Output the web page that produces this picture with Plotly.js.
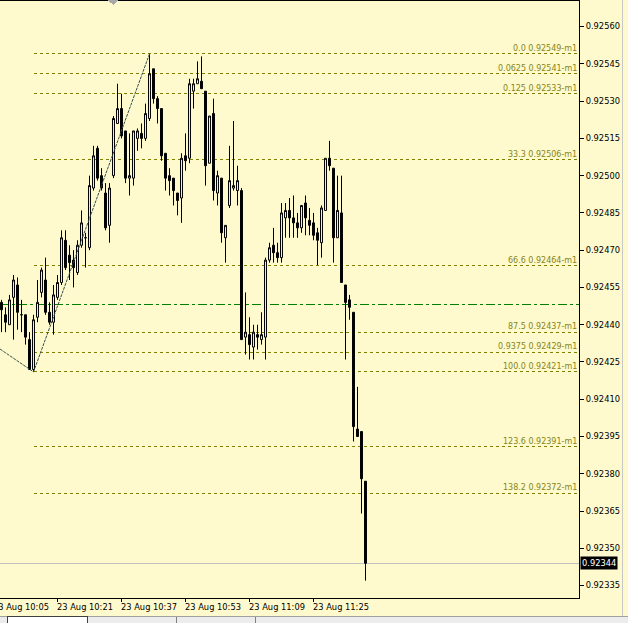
<!DOCTYPE html>
<html><head><meta charset="utf-8">
<script src="https://cdn.plot.ly/plotly-3.0.1.min.js"></script>
<style>html,body{margin:0;padding:0;background:#FFFACD;overflow:hidden}
.shapelayer path{shape-rendering:crispEdges}</style>
</head><body><div id="chart" style="width:628px;height:623px"></div>
<script>
// ---- data (M1 bars, 23 Aug, from 10:07) ----
const firstBar = [2023, 7, 23, 10, 7];   // year, month(0-based), day, hour, minute
const openP  = [0.92449,0.92444,0.92440,0.92451,0.92456,0.92444,0.92444,0.92434,0.92422,0.92443,
                0.92453,0.92458,0.92445,0.92441,0.92451,0.92457,0.92474,0.92468,0.92466,0.92461,
                0.92472,0.92475,0.92471,0.92495,0.92511,0.92500,0.92493,0.92480,0.92500,0.92521,
                0.92527,0.92518,0.92499,0.92499,0.92515,0.92517,0.92515,0.92523,0.92543,0.92531,
                0.92527,0.92509,0.92500,0.92499,0.92493,0.92491,0.92508,0.92507,0.92534,0.92537,
                0.92538,0.92534,0.92505,0.92525,0.92493,0.92499,0.92475,0.92488,0.92495,0.92494,
                0.92494,0.92435,0.92436,0.92431,0.92436,0.92434,0.92435,0.92466,0.92472,0.92469,
                0.92467,0.92483,0.92486,0.92483,0.92481,0.92479,0.92489,0.92482,0.92481,0.92477,
                0.92473,0.92486,0.92507,0.92503,0.92475,0.92485,0.92456,0.92450,0.92445,0.92398,
                0.92397,0.92377];
const highP  = [0.92450,0.92447,0.92452,0.92460,0.92459,0.92450,0.92444,0.92437,0.92444,0.92458,
                0.92463,0.92467,0.92449,0.92456,0.92460,0.92478,0.92478,0.92472,0.92470,0.92474,
                0.92486,0.92477,0.92500,0.92512,0.92512,0.92503,0.92497,0.92497,0.92524,0.92537,
                0.92533,0.92518,0.92517,0.92518,0.92519,0.92521,0.92529,0.92549,0.92543,0.92532,
                0.92527,0.92509,0.92503,0.92499,0.92493,0.92509,0.92517,0.92539,0.92539,0.92546,
                0.92548,0.92534,0.92524,0.92531,0.92502,0.92499,0.92480,0.92512,0.92522,0.92504,
                0.92495,0.92453,0.92443,0.92440,0.92440,0.92445,0.92467,0.92473,0.92479,0.92473,
                0.92489,0.92489,0.92491,0.92492,0.92485,0.92488,0.92492,0.92487,0.92485,0.92479,
                0.92488,0.92507,0.92514,0.92503,0.92500,0.92500,0.92456,0.92452,0.92445,0.92415,
                0.92397,0.92377];
const lowP   = [0.92437,0.92437,0.92440,0.92434,0.92438,0.92437,0.92432,0.92422,0.92421,0.92441,
                0.92451,0.92444,0.92440,0.92436,0.92450,0.92456,0.92462,0.92458,0.92455,0.92460,
                0.92471,0.92463,0.92470,0.92494,0.92498,0.92494,0.92478,0.92473,0.92499,0.92521,
                0.92515,0.92497,0.92492,0.92496,0.92510,0.92511,0.92514,0.92522,0.92529,0.92521,
                0.92506,0.92494,0.92492,0.92488,0.92484,0.92481,0.92502,0.92505,0.92527,0.92537,
                0.92535,0.92496,0.92505,0.92490,0.92488,0.92473,0.92465,0.92487,0.92494,0.92488,
                0.92434,0.92428,0.92426,0.92426,0.92430,0.92432,0.92426,0.92465,0.92465,0.92465,
                0.92465,0.92475,0.92475,0.92475,0.92475,0.92477,0.92476,0.92476,0.92474,0.92464,
                0.92467,0.92486,0.92502,0.92465,0.92475,0.92457,0.92426,0.92442,0.92393,0.92395,
                0.92364,0.92337];
const closeP = [0.92446,0.92441,0.92450,0.92458,0.92445,0.92444,0.92435,0.92422,0.92442,0.92449,
                0.92462,0.92445,0.92441,0.92452,0.92457,0.92475,0.92463,0.92465,0.92463,0.92472,
                0.92481,0.92475,0.92496,0.92508,0.92499,0.92495,0.92479,0.92495,0.92523,0.92527,
                0.92516,0.92499,0.92500,0.92518,0.92518,0.92515,0.92525,0.92541,0.92531,0.92527,
                0.92508,0.92499,0.92498,0.92494,0.92490,0.92507,0.92506,0.92537,0.92537,0.92539,
                0.92535,0.92504,0.92524,0.92494,0.92500,0.92477,0.92480,0.92498,0.92496,0.92498,
                0.92434,0.92437,0.92432,0.92437,0.92435,0.92436,0.92466,0.92471,0.92469,0.92467,
                0.92485,0.92486,0.92483,0.92481,0.92479,0.92488,0.92483,0.92480,0.92476,0.92474,
                0.92487,0.92507,0.92504,0.92475,0.92486,0.92457,0.92449,0.92447,0.92399,0.92395,
                0.92378,0.92344];

const yTickVals = [0.92335,0.92350,0.92365,0.92380,0.92395,0.92410,0.92425,0.92440,
                   0.92455,0.92470,0.92485,0.92500,0.92515,0.92530,0.92545,0.92560];
const xTickTimes  = ['2023-08-23 10:05','2023-08-23 10:21','2023-08-23 10:37',
                     '2023-08-23 10:53','2023-08-23 11:09','2023-08-23 11:25'];
const xTickLabels = ['23 Aug 10:05','23 Aug 10:21','23 Aug 10:37',
                     '23 Aug 10:53','23 Aug 11:09','23 Aug 11:25'];
const xRange = ['2023-08-23 10:06:37.5','2023-08-23 12:31:22.5'];
const yRange = [0.92330, 0.925703];

const fibNames  = ['0.0','0.0625','0.125','33.3','66.6','87.5','0.9375','100.0','123.6','138.2'];
const fibRatios = [0, 0.0625, 0.125, 0.333, 0.666, 0.875, 0.9375, 1.0, 1.236, 1.382];
const fibHighBar = 37, fibLowBar = 8;
const pivotLevel = 0.92448;
const lastPrice  = 0.92344;
const zigzagTimes  = ['2023-08-23 10:05','2023-08-23 10:15','2023-08-23 10:44'];
const zigzagPrices = [0.92432, 0.92421, 0.92549];

// ---- build ----
const BG = '#FFFACD';
const FONT = 'DejaVu Sans, Verdana, sans-serif';
function fmtTime(d){ return d.toISOString().slice(0,19).replace('T',' '); }
const times = openP.map((_, k) =>
  fmtTime(new Date(Date.UTC(firstBar[0], firstBar[1], firstBar[2], firstBar[3], firstBar[4] + k))));

const fibHigh = highP[fibHighBar], fibLow = lowP[fibLowBar];
const fibLevels = fibRatios.map(r => fibHigh - r * (fibHigh - fibLow));

const candles = {
  type: 'candlestick', x: times, open: openP, high: highP, low: lowP, close: closeP,
  increasing: {line: {color: '#000000', width: 1}, fillcolor: BG},
  decreasing: {line: {color: '#000000', width: 1}, fillcolor: '#000000'},
  whiskerwidth: 0, hoverinfo: 'skip', showlegend: false
};
const zigzag = {
  type: 'scatter', mode: 'lines', x: zigzagTimes, y: zigzagPrices,
  line: {color: '#2F4F4F', width: 1, dash: '3px,1px'}, hoverinfo: 'skip', showlegend: false
};

const shapes = [];
const annotations = [];
fibLevels.forEach((v, i) => {
  shapes.push({type: 'line', xref: 'x', yref: 'y', x0: times[fibLowBar], x1: xRange[1], y0: v, y1: v,
               line: {color: '#808000', width: 1, dash: '3px,3px'}, layer: 'below'});
  annotations.push({xref: 'paper', yref: 'y', x: 1, y: v, xanchor: 'right', yanchor: 'bottom',
                    xshift: 0, yshift: -1, showarrow: false,
                    text: fibNames[i] + ' ' + v.toFixed(5) + '-m1',
                    font: {family: FONT, size: 8, color: '#85851a'}});
});
shapes.push({type: 'line', xref: 'paper', yref: 'y', x0: 0, x1: 1, y0: pivotLevel, y1: pivotLevel,
             line: {color: '#008000', width: 1, dash: '9px,3px,3px,3px'}, layer: 'below'});
shapes.push({type: 'line', xref: 'paper', yref: 'y', x0: 0, x1: 1, y0: lastPrice, y1: lastPrice,
             line: {color: '#C0C0C0', width: 1}, layer: 'below'});
// window chrome
shapes.push({type: 'line', xref: 'paper', yref: 'paper', x0: 1.0743, x1: 1.0743, y0: 1.002, y1: -0.0318,
             line: {color: '#C8C8C8', width: 1}});
shapes.push({type: 'rect', xref: 'paper', yref: 'paper', x0: -0.01, x1: 1.09, y0: -0.0318, y1: -0.045,
             fillcolor: '#ECECEC', line: {width: 0}});
shapes.push({type: 'line', xref: 'paper', yref: 'paper', x0: -0.01, x1: 1.09, y0: -0.0318, y1: -0.0318,
             line: {color: '#A0A0A0', width: 1}});
shapes.push({type: 'rect', xref: 'paper', yref: 'paper', x0: 0.0138, x1: 0.1503, y0: -0.0318, y1: -0.045,
             fillcolor: '#FFFFFF', line: {color: '#404040', width: 1}});
shapes.push({type: 'line', xref: 'paper', yref: 'paper', x0: 0.304, x1: 0.304, y0: -0.0318, y1: -0.045,
             line: {color: '#808080', width: 1}});
shapes.push({type: 'line', xref: 'paper', yref: 'paper', x0: 0.442, x1: 0.442, y0: -0.0318, y1: -0.045,
             line: {color: '#808080', width: 1}});
shapes.push({type: 'path', xref: 'paper', yref: 'paper',
             path: 'M 0.1865 1.0017 L 0.2038 1.0017 L 0.1952 0.9933 Z',
             fillcolor: '#A8A8A8', line: {width: 0}});

// x-axis labels, left-aligned at their tick (MetaTrader style)
xTickTimes.forEach((t, i) => {
  const inRange = t >= xRange[0];
  annotations.push(inRange ? {
      xref: 'x', yref: 'paper', x: t, y: 0, xanchor: 'left', yanchor: 'top', xshift: -3, yshift: -2,
      showarrow: false, text: xTickLabels[i], font: {family: FONT, size: 8.3, color: '#000000'}
    } : {
      xref: 'paper', yref: 'paper', x: 0, y: 0, xanchor: 'right', yanchor: 'top', xshift: 51, yshift: -2,
      showarrow: false, text: xTickLabels[i], font: {family: FONT, size: 8.3, color: '#000000'}
    });
});
// current price tag
annotations.push({xref: 'paper', yref: 'y', x: 1, y: lastPrice, xanchor: 'left', yanchor: 'middle',
                  xshift: 1, showarrow: false, text: lastPrice.toFixed(5), bgcolor: '#000000',
                  borderpad: 1, font: {family: FONT, size: 8.3, color: '#FFFFFF'}});

const layout = {
  width: 628, height: 623,
  margin: {l: 0, r: 49, t: 1, b: 25, pad: 0},
  paper_bgcolor: BG, plot_bgcolor: BG,
  showlegend: false, dragmode: false, hovermode: false,
  xaxis: {
    type: 'date', range: xRange, rangeslider: {visible: false},
    tickvals: xTickTimes.filter(t => t >= xRange[0]), showticklabels: false,
    ticks: 'outside', ticklen: 3, tickcolor: '#000000', tickwidth: 1,
    showgrid: false, zeroline: false, showline: true, mirror: true,
    linecolor: '#000000', linewidth: 1, fixedrange: true
  },
  yaxis: {
    side: 'right', range: yRange, tickvals: yTickVals, tickformat: '.5f',
    ticks: 'outside', ticklen: 4, tickcolor: '#000000', tickwidth: 1,
    tickfont: {family: FONT, size: 8.3, color: '#000000'},
    showgrid: false, zeroline: false, showline: true, mirror: false,
    linecolor: '#000000', linewidth: 1, fixedrange: true
  },
  shapes: shapes, annotations: annotations
};

Plotly.newPlot('chart', [candles, zigzag], layout, {staticPlot: true, displayModeBar: false});
</script></body></html>
